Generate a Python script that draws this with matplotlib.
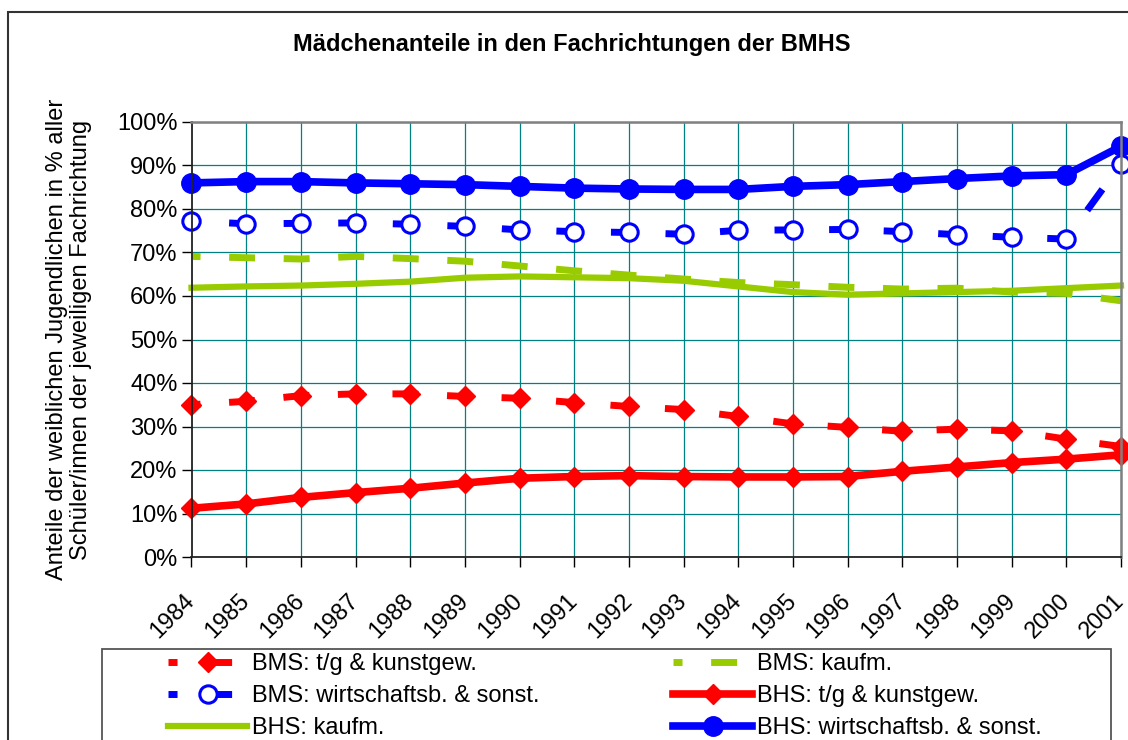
import matplotlib
matplotlib.use("Agg")
import matplotlib.pyplot as plt
from matplotlib.patches import Rectangle
from matplotlib.transforms import ScaledTranslation

plt.rcParams['font.family'] = ['Liberation Sans', 'DejaVu Sans']
plt.rcParams['lines.scale_dashes'] = False

years = list(range(1984, 2002))
year_labels = [str(y) for y in years]

# Anteile in %
bms_tg = [35.0, 35.8, 37.1, 37.5, 37.5, 36.9, 36.5, 35.5, 34.6, 33.9, 32.3, 30.6, 29.8, 28.9, 29.4, 29.0, 27.1, 25.4]
bms_kaufm = [69.1, 68.8, 68.5, 69.1, 68.6, 68.0, 66.9, 65.8, 64.8, 63.9, 63.1, 62.6, 62.0, 61.6, 61.8, 60.9, 60.6, 58.9]
bms_wirt = [77.2, 76.6, 76.7, 76.8, 76.5, 76.0, 75.2, 74.8, 74.6, 74.2, 75.1, 75.2, 75.3, 74.8, 74.1, 73.5, 73.1, 90.4]
bhs_tg = [11.2, 12.2, 13.7, 14.8, 15.8, 17.0, 18.1, 18.5, 18.7, 18.5, 18.4, 18.4, 18.5, 19.7, 20.7, 21.7, 22.5, 23.5]
bhs_kaufm = [61.9, 62.2, 62.4, 62.8, 63.3, 64.2, 64.5, 64.3, 64.1, 63.5, 62.2, 60.9, 60.3, 60.6, 60.9, 61.2, 61.8, 62.4]
bhs_wirt = [86.0, 86.3, 86.3, 86.0, 85.8, 85.6, 85.2, 84.8, 84.6, 84.5, 84.5, 85.2, 85.6, 86.3, 87.0, 87.6, 87.9, 94.4]

W, H = 1128, 740
fs = 17
fig = plt.figure(figsize=(W / 100, H / 100), dpi=100)
ax = fig.add_axes([191.5 / W, 1 - 557 / H, (1121 - 191.5) / W, (557 - 122) / H])

dash = (12.2, (18.7, 20.6))
red, green, blue = '#FF0000', '#99CC00', '#0000FF'

l1, = ax.plot(years, bms_tg, color=red, lw=5, ls=dash, dash_capstyle='butt',
              marker='D', ms=10, mec=red, mfc=red, clip_on=False, label='BMS: t/g & kunstgew.')
l2, = ax.plot(years, bms_kaufm, color=green, lw=5, ls=dash, dash_capstyle='butt',
              clip_on=False, label='BMS: kaufm.')
l3, = ax.plot(years, bms_wirt, color=blue, lw=5, ls=dash, dash_capstyle='butt',
              marker='o', ms=12.5, mfc='white', mec=blue, mew=2.2, clip_on=False,
              label='BMS: wirtschaftsb. & sonst.')
l4, = ax.plot(years, bhs_tg, color=red, lw=5.5, marker='D', ms=10, mec=red, mfc=red,
              clip_on=False, label='BHS: t/g & kunstgew.')
l5, = ax.plot(years, bhs_kaufm, color=green, lw=4.5, clip_on=False, label='BHS: kaufm.')
l6, = ax.plot(years, bhs_wirt, color=blue, lw=5.5, marker='o', ms=14, mfc=blue, mec=blue,
              clip_on=False, label='BHS: wirtschaftsb. & sonst.')

ax.set_xlim(1984, 2001)
ax.set_ylim(0, 100)
ax.set_yticks(range(0, 101, 10))
ax.set_yticklabels([f"{v}%" for v in range(0, 101, 10)], fontsize=fs)
ax.set_xticks(years)
ax.set_xticklabels(year_labels, fontsize=fs, rotation=45, ha='right', va='center',
                   rotation_mode='anchor')
shift = ScaledTranslation(-5 / 100, -2 / 100, fig.dpi_scale_trans)
for lab in ax.get_xticklabels():
    lab.set_transform(lab.get_transform() + shift)
ax.tick_params(axis='both', direction='out', length=7, width=1, color='black')
ax.tick_params(axis='y', pad=3)
ax.tick_params(axis='x', pad=22)
ax.grid(True, color='#008080', lw=0.9)
ax.set_axisbelow(True)
for s in ['left', 'bottom']:
    ax.spines[s].set_color('#222222')
    ax.spines[s].set_linewidth(1.3)
for s in ['top', 'right']:
    ax.spines[s].set_color('#808080')
    ax.spines[s].set_linewidth(1.8)

fig.text(572 / W, 1 - 45 / H, 'Mädchenanteile in den Fachrichtungen der BMHS',
         fontsize=fs, fontweight='bold', ha='center', va='center')
fig.text(69 / W, 1 - 339.5 / H,
         'Anteile der weiblichen Jugendlichen in % aller\nSchüler/innen der jeweiligen Fachrichtung',
         fontsize=fs, rotation=90, ha='center', va='center', multialignment='center',
         linespacing=1.15)

# outer chart border and legend box
fig.add_artist(Rectangle((8 / W, -0.1), 1.2, 1 - 12 / H + 0.1, transform=fig.transFigure,
                         fill=False, ec='#333333', lw=1.5))
fig.add_artist(Rectangle((102 / W, -0.1), (1111 - 102) / W, 1 - 649 / H + 0.1,
                         transform=fig.transFigure, fill=False, ec='#555555', lw=1.3))

leg_kw = dict(loc='upper left', frameon=False, fontsize=fs, numpoints=1, handlelength=3.35,
              handletextpad=0.2, labelspacing=0.42, borderpad=0, borderaxespad=0)
fig.legend(handles=[l1, l3, l5], bbox_to_anchor=(168 / W, 1 - 653 / H), **leg_kw)
fig.legend(handles=[l2, l4, l6], bbox_to_anchor=(673 / W, 1 - 653 / H), **leg_kw)

fig.savefig('out.png', dpi=100)
